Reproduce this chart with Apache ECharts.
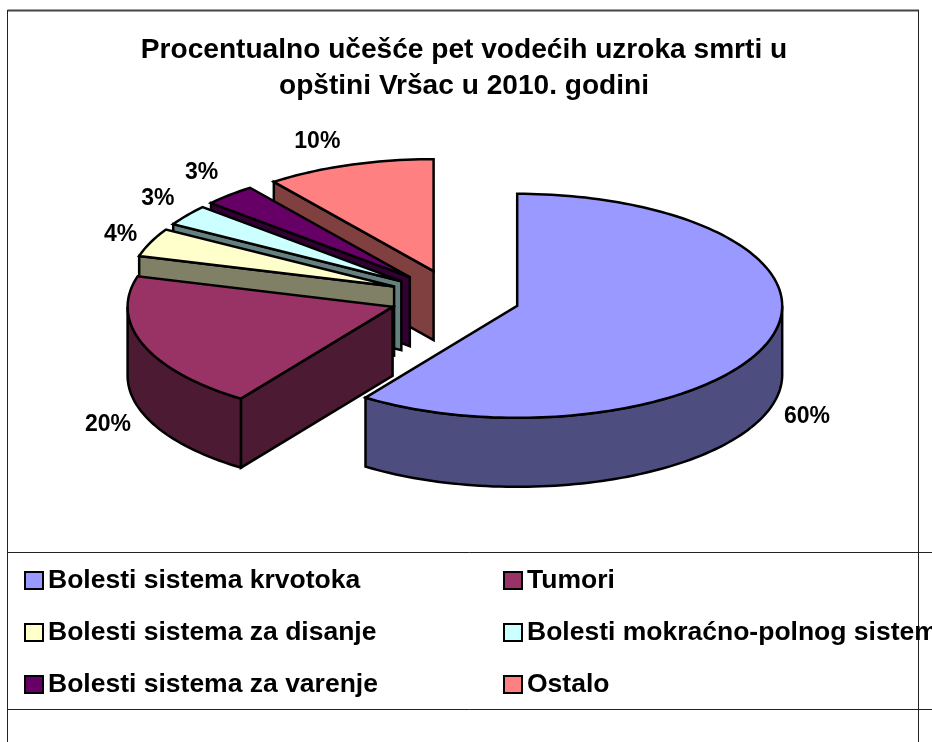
<!DOCTYPE html>
<html>
<head>
<meta charset="utf-8">
<script src="https://cdn.jsdelivr.net/npm/echarts@6/dist/echarts.min.js"></script>
<style>html,body{margin:0;padding:0;background:#fff}#c{width:932px;height:742px}</style>
</head>
<body>
<div id="c"></div>
<script>
const titleText = 'Procentualno učešće pet vodećih uzroka smrti u\nopštini Vršac u 2010. godini';
const categories = ['Bolesti sistema krvotoka','Tumori','Bolesti sistema za disanje','Bolesti mokraćno-polnog sistema','Bolesti sistema za varenje','Ostalo'];
const values = [59.7,19.7,4.1,3.0,3.2,10.3];
const topColors = ['#9999FF','#993366','#FFFFCC','#CCFFFF','#660066','#FF8080'];
const wallColors = ['#4D4D80','#4D1A33','#808066','#668080','#330033','#804040'];

// layout of the pie
const CX = 454.5, CY = 297.5, RX = 265, RY = 112, DEPTH = 69, EXPLODE = 0.248;
const labelOffset = [[37,77],[-35,80],[-30,-8],[-29,-17],[-28,-22],[-32,-23]];
const drawOrder = [5,4,3,2,1,0];
const FONT = '"Liberation Sans", Arial, sans-serif';

const total = values.reduce((a,b)=>a+b,0);
const angleStart = []; let acc = 0;
values.forEach(v=>{angleStart.push(acc/total*Math.PI*2); acc+=v;});
const rad = d=>d*Math.PI/180;
function pt(o,a){return [o[0]+RX*Math.sin(a), o[1]-RY*Math.cos(a)];}
function arc(o,a0,a1,dy){
  const n=Math.max(2,Math.ceil((a1-a0)/rad(1.5))), r=[];
  for(let i=0;i<=n;i++){const p=pt(o,a0+(a1-a0)*i/n); r.push([p[0],p[1]+(dy||0)]);}
  return r;
}
function renderSlice(i){
  return function(params,api){
    const share=api.value(0)/total*Math.PI*2, a0=angleStart[i], a1=a0+share, mid=(a0+a1)/2;
    const o=[CX+EXPLODE*RX*Math.sin(mid), CY-EXPLODE*RY*Math.cos(mid)];
    const style=(c)=>({fill:c,stroke:'#000',lineWidth:2.5,lineJoin:'miter'});
    const children=[];
    const addPoly=(points,c)=>children.push({type:'polygon',shape:{points},style:style(c),z2:children.length});
    const wall=wallColors[i];
    const PI=Math.PI;
    // cut faces
    if(a1>0 && a1<PI-1e-6){const p=pt(o,a1);addPoly([o,p,[p[0],p[1]+DEPTH],[o[0],o[1]+DEPTH]],wall);}
    if(a0>PI && a0<2*PI){const p=pt(o,a0);addPoly([o,p,[p[0],p[1]+DEPTH],[o[0],o[1]+DEPTH]],wall);}
    // outer wall
    const w0=Math.max(a0,PI/2), w1=Math.min(a1,PI*1.5);
    if(w1>w0){const up=arc(o,w0,w1,0), dn=arc(o,w0,w1,DEPTH).reverse();addPoly(up.concat(dn),wall);}
    // top face
    addPoly([o].concat(arc(o,a0,a1,0)),topColors[i]);
    // value label
    const m=pt(o,mid);
    children.push({type:'text',z2:50,style:{
      text:Math.round(api.value(0))+'%',x:m[0]+labelOffset[i][0],y:m[1]+labelOffset[i][1],
      align:'center',verticalAlign:'middle',fill:'#000',font:'bold 23px '+FONT}});
    return {type:'group',children};
  };
}
const series=drawOrder.map((i,k)=>({
  type:'custom',name:categories[i],coordinateSystem:'none',silent:true,z:2+k,
  itemStyle:{color:topColors[i]},data:[[values[i]]],renderItem:renderSlice(i),animation:false
}));
function legendColumn(idx,left){
  return {
    orient:'vertical',left,top:567,padding:0,itemWidth:18,itemHeight:17,itemGap:25,icon:'rect',selectedMode:false,
    textStyle:{fontFamily:FONT,fontWeight:'bold',fontSize:26.5,color:'#000'},
    data:idx.map(i=>({name:categories[i],itemStyle:{color:topColors[i],borderColor:'#000',borderWidth:2}}))
  };
}
const line=(x1,y1,x2,y2,w,c)=>({type:'line',silent:true,shape:{x1,y1,x2,y2},style:{stroke:c||'#222',lineWidth:w||1}});
const chart=echarts.init(document.getElementById('c'),null,{renderer:'canvas',width:932,height:742});
chart.setOption({
  animation:false,backgroundColor:'#fff',
  title:{text:titleText,left:459,top:27,textAlign:'center',
    textStyle:{fontFamily:FONT,fontWeight:'bold',fontSize:28.1,lineHeight:36,color:'#000'}},
  legend:[legendColumn([0,2,4],24),legendColumn([1,3,5],503)],
  graphic:[
    line(7.5,10.5,919,10.5,2,'#444'),
    line(7.5,10,7.5,742),
    line(918.5,10,918.5,742),
    line(7.5,552.5,932,552.5),
    line(7.5,709.5,932,709.5)
  ],
  series
});
</script>
</body>
</html>
